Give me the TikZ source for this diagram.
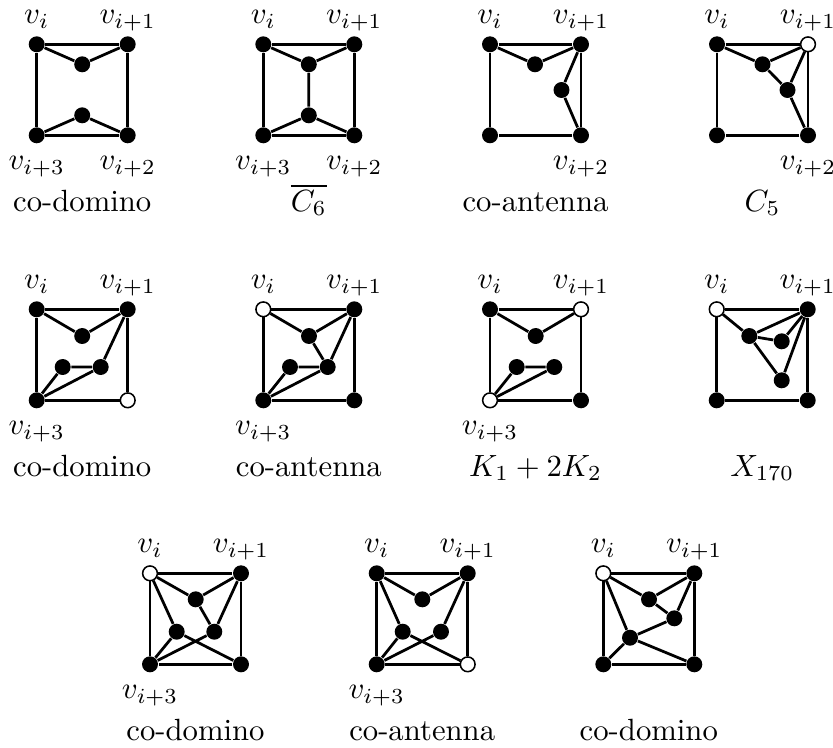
\documentclass[tikz,border=0pt]{standalone}
\begin{document}
\tikzset{
  bn/.style={circle,fill=black,inner sep=0pt,minimum size=5.2pt},
  wn/.style={circle,draw=black,fill=white,line width=0.5pt,inner sep=0pt,minimum size=4.8pt},
  ed/.style={line width=0.9pt},
  lbl/.style={anchor=base,inner sep=0pt},
  captext/.style={anchor=base,inner sep=0pt},
}
\newcommand\gcorners[5]{%
  \node[#2] (#1a) at (0,0) {};
  \node[#3] (#1b) at (91,0) {};
  \node[#4] (#1c) at (91,91) {};
  \node[#5] (#1d) at (0,91) {};
  \draw[ed] (#1a) -- (#1b) -- (#1c) -- (#1d) -- (#1a);}
\newcommand\labvi[1]{\node[lbl] (#1la) at (0,-20.5) {$v_i$};}
\newcommand\labvb[1]{\node[lbl] (#1lb) at (91,-20.5) {$v_{i+1}$};}
\newcommand\labvc[1]{\node[lbl] (#1lc) at (91,125.5) {$v_{i+2}$};}
\newcommand\labvd[1]{\node[lbl] (#1ld) at (0,125.5) {$v_{i+3}$};}
\begin{tikzpicture}[x=0.3257pt,y=-0.3257pt]
\useasboundingbox (0,0) rectangle (833,747);
% ---------- row 1 ----------
\begin{scope}[shift={(36.7,44.3)}]
  \gcorners{p1}{bn}{bn}{bn}{bn}
  \node[bn] (p1m) at (45.5,20) {};
  \node[bn] (p1n) at (45.5,71) {};
  \draw[ed] (p1a) -- (p1m) -- (p1b) (p1d) -- (p1n) -- (p1c);
  \labvi{p1}\labvb{p1}\labvc{p1}\labvd{p1}
  \node[captext] (p1t) at (45.5,167) {co-domino};
\end{scope}
\begin{scope}[shift={(263.3,44.3)}]
  \gcorners{p2}{bn}{bn}{bn}{bn}
  \node[bn] (p2m) at (45.5,20) {};
  \node[bn] (p2n) at (45.5,71) {};
  \draw[ed] (p2a) -- (p2m) -- (p2b) (p2d) -- (p2n) -- (p2c) (p2m) -- (p2n);
  \labvi{p2}\labvb{p2}\labvc{p2}\labvd{p2}
  \node[captext] (p2t) at (45.5,167) {$\overline{C_6}$};
\end{scope}
\begin{scope}[shift={(490,44.3)}]
  \gcorners{p3}{bn}{bn}{bn}{bn}
  \node[bn] (p3m) at (45,20) {};
  \node[bn] (p3n) at (71.5,45.7) {};
  \draw[ed] (p3a) -- (p3m) -- (p3b) -- (p3n) -- (p3c);
  \labvi{p3}\labvb{p3}\labvc{p3}
  \node[captext] (p3t) at (45.5,167) {co-antenna};
\end{scope}
\begin{scope}[shift={(717,44.3)}]
  \gcorners{p4}{bn}{wn}{bn}{bn}
  \node[bn] (p4m) at (45.5,20) {};
  \node[bn] (p4n) at (70.5,45.7) {};
  \draw[ed] (p4a) -- (p4m) -- (p4b) -- (p4n) -- (p4c) (p4m) -- (p4n);
  \labvi{p4}\labvb{p4}\labvc{p4}
  \node[captext] (p4t) at (45.5,167) {$C_5$};
\end{scope}
% ---------- row 2 ----------
\begin{scope}[shift={(36.7,309.3)}]
  \gcorners{p5}{bn}{bn}{wn}{bn}
  \node[bn] (p5m) at (45.5,26.7) {};
  \node[bn] (p5n) at (26,57.7) {};
  \node[bn] (p5o) at (64,57.7) {};
  \draw[ed] (p5a) -- (p5m) -- (p5b) -- (p5o) -- (p5n) -- (p5d) -- (p5o);
  \labvi{p5}\labvb{p5}\labvd{p5}
  \node[captext] (p5t) at (45.5,167) {co-domino};
\end{scope}
\begin{scope}[shift={(263.3,309.3)}]
  \gcorners{p6}{wn}{bn}{bn}{bn}
  \node[bn] (p6m) at (45.7,26.7) {};
  \node[bn] (p6n) at (26.7,57.7) {};
  \node[bn] (p6o) at (64.4,57.7) {};
  \draw[ed] (p6a) -- (p6m) -- (p6b) -- (p6o) -- (p6n) -- (p6d) -- (p6o) (p6m) -- (p6o);
  \labvi{p6}\labvb{p6}\labvd{p6}
  \node[captext] (p6t) at (45.5,167) {co-antenna};
\end{scope}
\begin{scope}[shift={(490,309.3)}]
  \gcorners{p7}{bn}{wn}{bn}{wn}
  \node[bn] (p7m) at (45.7,26.7) {};
  \node[bn] (p7n) at (26.7,57.7) {};
  \node[bn] (p7o) at (64.3,57.7) {};
  \draw[ed] (p7a) -- (p7m) -- (p7b) (p7o) -- (p7n) -- (p7d) -- (p7o);
  \labvi{p7}\labvb{p7}\labvd{p7}
  \node[captext] (p7t) at (45.5,167) {$K_1+2K_2$};
\end{scope}
\begin{scope}[shift={(716.7,309.3)}]
  \gcorners{p8}{wn}{bn}{bn}{bn}
  \node[bn] (p8m) at (32.6,26.7) {};
  \node[bn] (p8n) at (65,32) {};
  \node[bn] (p8o) at (65,71) {};
  \draw[ed] (p8a) -- (p8m) -- (p8b) -- (p8n) -- (p8m) -- (p8o) -- (p8b);
  \labvi{p8}\labvb{p8}
  \node[captext] (p8t) at (45.5,167) {$X_{170}$};
\end{scope}
% ---------- row 3 ----------
\begin{scope}[shift={(150,573.3)}]
  \gcorners{p9}{wn}{bn}{bn}{bn}
  \node[bn] (p9m) at (45.7,26) {};
  \node[bn] (p9n) at (26.7,58.4) {};
  \node[bn] (p9o) at (64.3,58.4) {};
  \draw[ed] (p9a) -- (p9m) -- (p9b) -- (p9o) -- (p9d) -- (p9n) -- (p9a)
            (p9m) -- (p9o) (p9n) -- (p9c);
  \labvi{p9}\labvb{p9}\labvd{p9}
  \node[captext] (p9t) at (45.5,167) {co-domino};
\end{scope}
\begin{scope}[shift={(376.7,573.3)}]
  \gcorners{p10}{bn}{bn}{wn}{bn}
  \node[bn] (p10m) at (45.6,26) {};
  \node[bn] (p10n) at (26,58.4) {};
  \node[bn] (p10o) at (64.3,58.4) {};
  \draw[ed] (p10a) -- (p10m) -- (p10b) -- (p10o) -- (p10d) -- (p10n) -- (p10a)
            (p10n) -- (p10c);
  \labvi{p10}\labvb{p10}\labvd{p10}
  \node[captext] (p10t) at (45.5,167) {co-antenna};
\end{scope}
\begin{scope}[shift={(603.3,573.3)}]
  \gcorners{p11}{wn}{bn}{bn}{bn}
  \node[bn] (p11m) at (45.7,26) {};
  \node[bn] (p11n) at (71,45) {};
  \node[bn] (p11o) at (26.7,64.4) {};
  \draw[ed] (p11a) -- (p11m) -- (p11b) -- (p11n) -- (p11m) (p11n) -- (p11o) -- (p11a)
            (p11d) -- (p11o) -- (p11c);
  \labvi{p11}\labvb{p11}
  \node[captext] (p11t) at (45.5,167) {co-domino};
\end{scope}
\end{tikzpicture}
\end{document}
